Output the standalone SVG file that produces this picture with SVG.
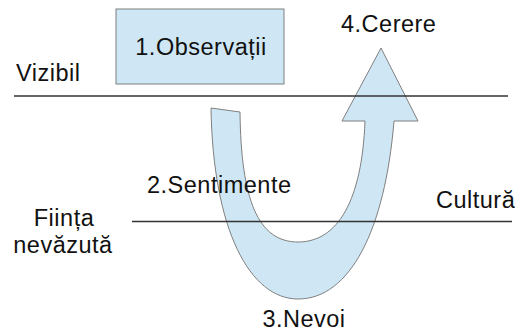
<svg xmlns="http://www.w3.org/2000/svg" width="515" height="333" viewBox="0 0 515 333">
<style>
.t{font-family:"Liberation Sans",Arial,sans-serif;font-size:23.5px;letter-spacing:0.5px;fill:#111}
.shape{fill:#cfe7f5;stroke:#7f7f7f;stroke-width:1}
.ln{stroke:#333;stroke-width:1.3;fill:none}
</style>
<rect width="515" height="333" fill="#fff"/>
<g id="observatii">
<rect class="shape" x="116" y="9" width="168" height="75"/>
<text class="t" x="201" y="55" text-anchor="middle">1.Observații</text>
</g>
<g id="arrow">
<path class="shape" d="M211,108 L240,112 C241,200 258,242 298,242 C338,242 362,200 365,121 L342,121 L381,48 L418,121 L394,121 C385,230 350,299 298,299 C250,299 213,230 211,108 Z"/>
</g>
<g id="connectors">
<line class="ln" x1="14" y1="96" x2="508" y2="96"/>
<line class="ln" x1="132" y1="221.5" x2="512" y2="221.5"/>
</g>
<g id="labels">
<text class="t" x="16" y="81">Vizibil</text>
<text class="t" x="64" y="226" text-anchor="middle">Ființa</text>
<text class="t" x="63" y="253" text-anchor="middle">nevăzută</text>
<text class="t" x="147" y="193">2.Sentimente</text>
<text class="t" x="304" y="327" text-anchor="middle">3.Nevoi</text>
<text class="t" x="341" y="32">4.Cerere</text>
<text class="t" x="436" y="208">Cultură</text>
</g>
</svg>
